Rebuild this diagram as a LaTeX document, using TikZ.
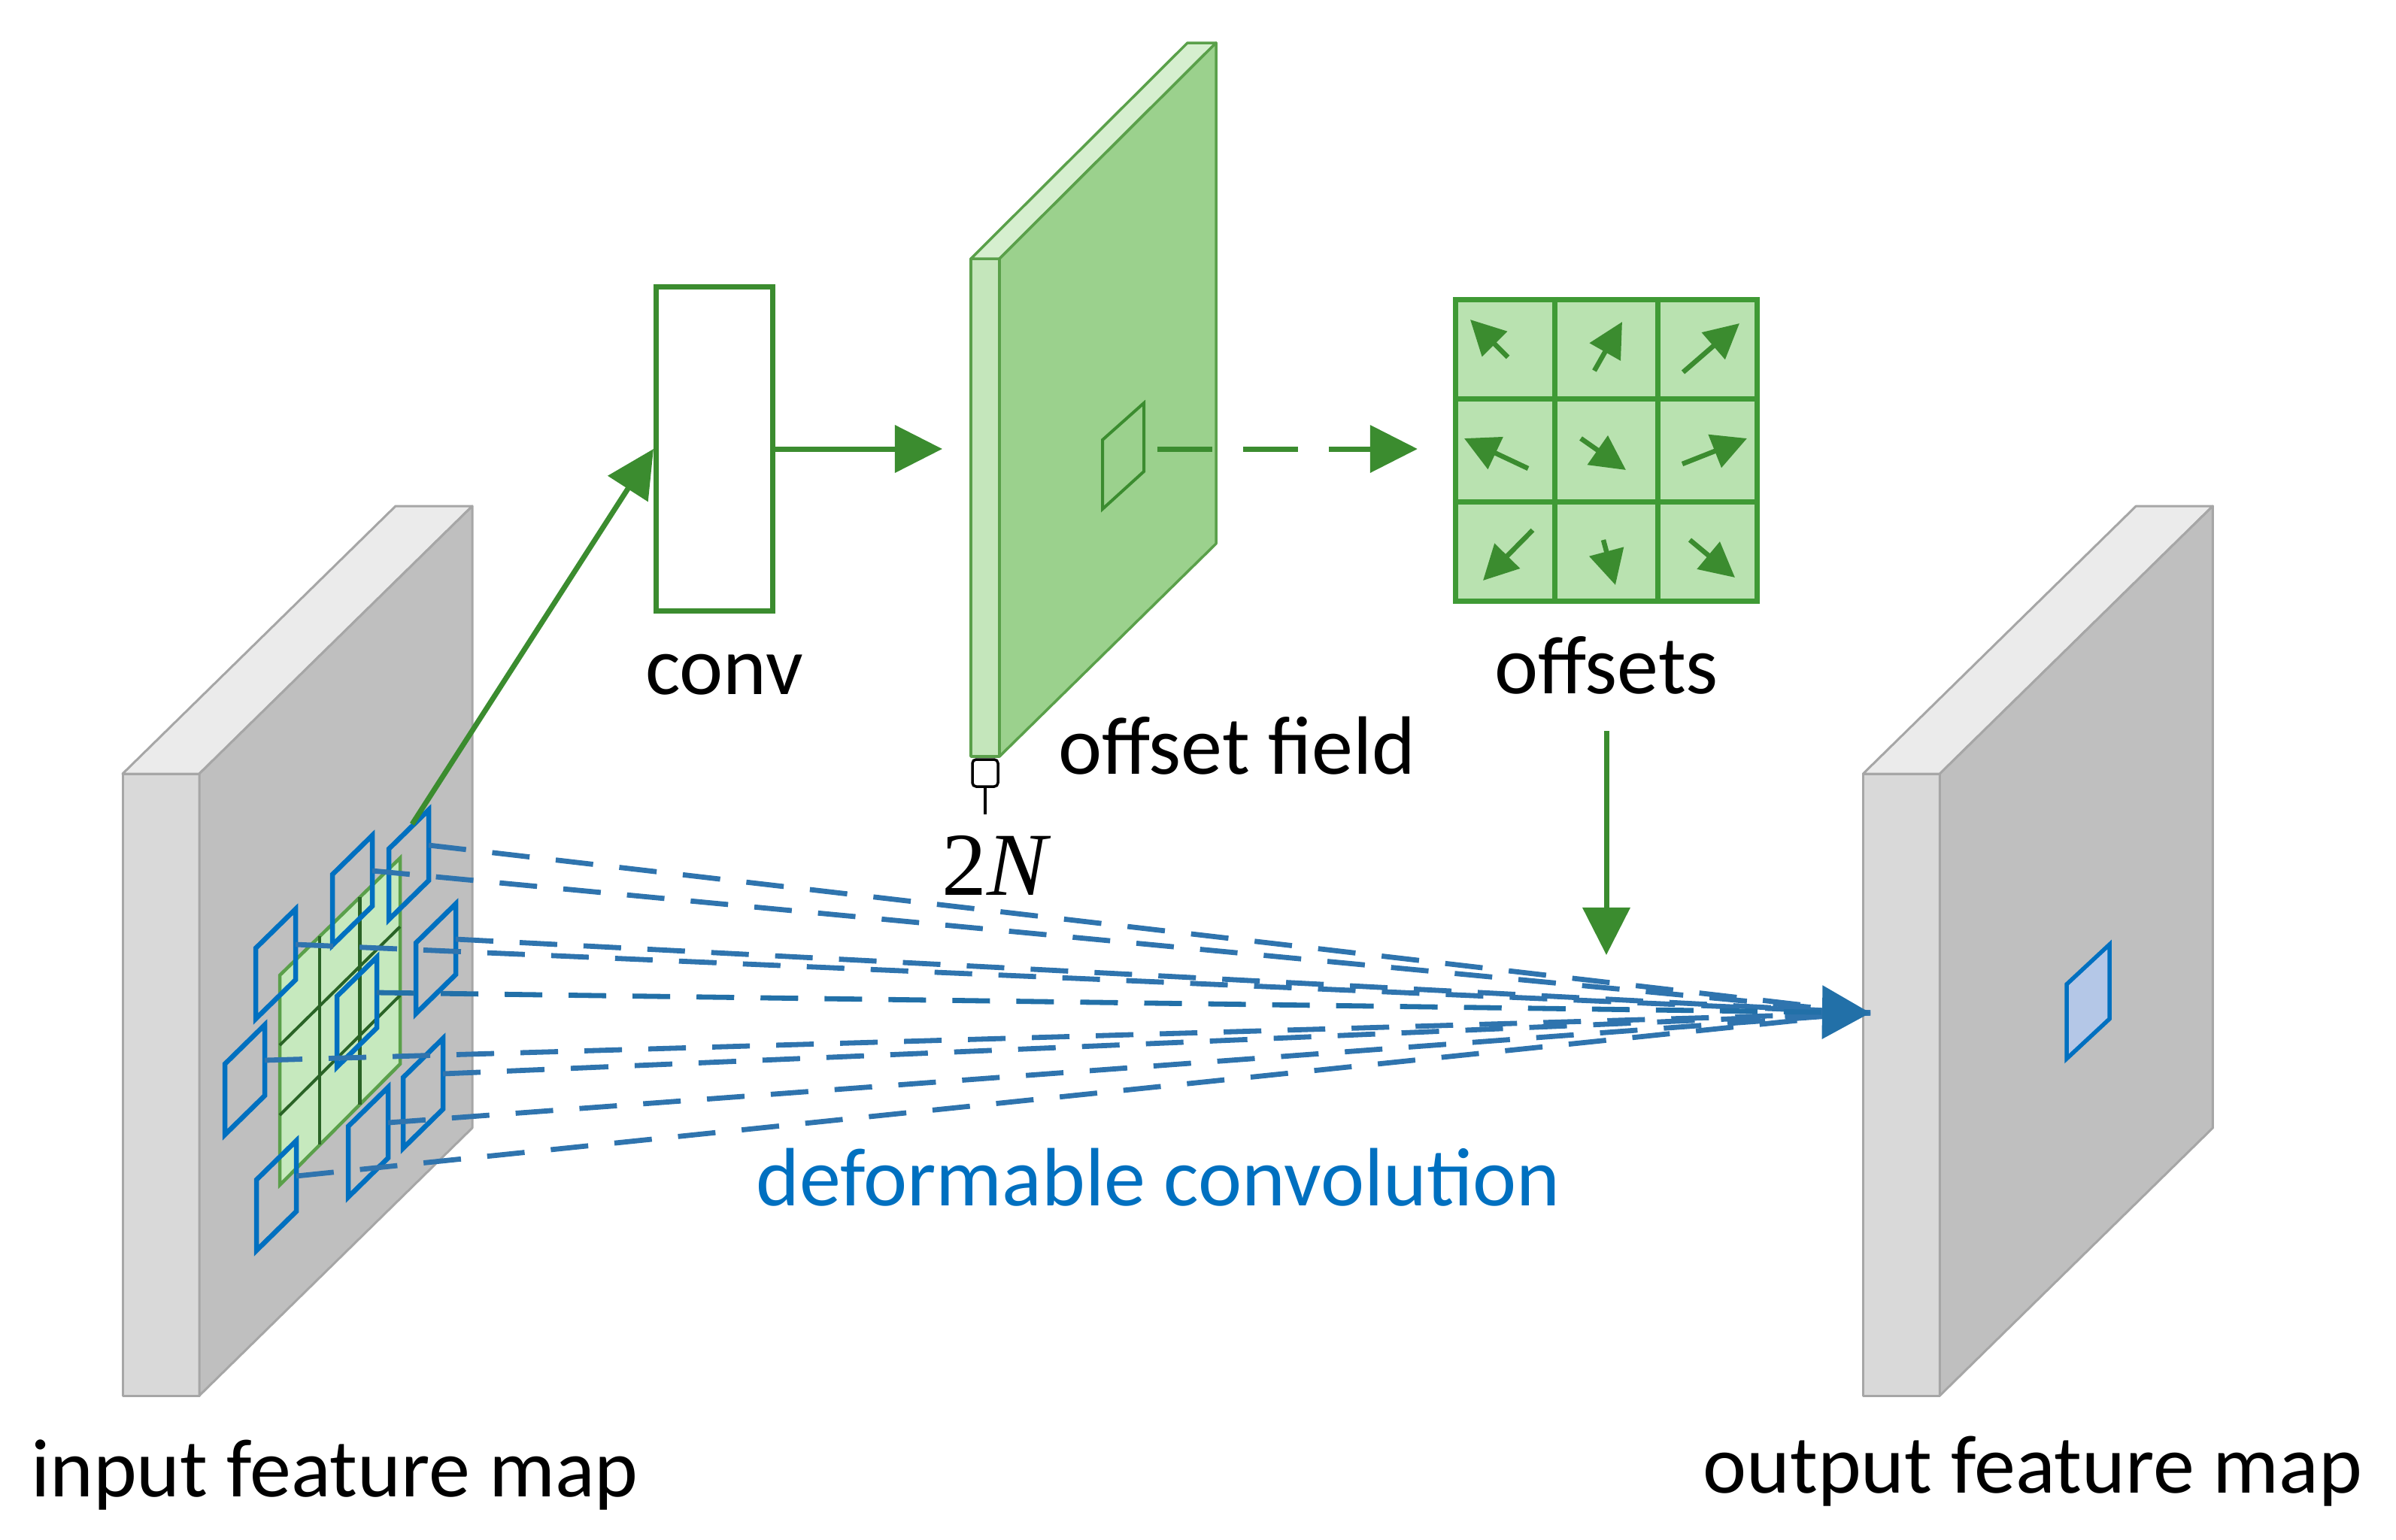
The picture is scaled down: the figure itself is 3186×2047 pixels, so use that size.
\documentclass[tikz,border=0pt]{standalone}
\usepackage{fontspec}
\setmainfont{Carlito}
\newfontfamily\tnr{Liberation Serif}
\usetikzlibrary{arrows.meta,calc}
\definecolor{gfront}{HTML}{BFBFBF}
\definecolor{gside}{HTML}{D9D9D9}
\definecolor{gtop}{HTML}{EBEBEB}
\definecolor{gedge}{HTML}{A6A6A6}
\definecolor{dgreen}{HTML}{3B8C2F}
\definecolor{sfront}{HTML}{9BD18D}
\definecolor{sside}{HTML}{C4E6BB}
\definecolor{stopc}{HTML}{D6EFCF}
\definecolor{sedge}{HTML}{5AA04A}
\definecolor{gridfill}{HTML}{B9E2B0}
\definecolor{gridline}{HTML}{3F9A35}
\definecolor{bsq}{HTML}{0070C0}
\definecolor{bdash}{HTML}{2F74AE}
\definecolor{barrow}{HTML}{2270A8}
\definecolor{bfill}{HTML}{B4C7E7}
\definecolor{patchfill}{HTML}{C6E9BE}
\definecolor{patchline}{HTML}{2A6326}
\newcommand\bluesq[3]{%
  \draw[bsqstyle] (#1,#2) -- ++(53,-52) -- ++(0,94) -- ++(-53,52) -- cycle;
  \coordinate (#3) at ($(#1,#2)+(53,-5)$);}
\begin{document}
\begin{tikzpicture}[x=0.01cm,y=-0.01cm,
  lbl/.style={font=\fontsize{31.3}{37}\selectfont, inner sep=0, anchor=base},
  garrow/.style={draw=dgreen, line width=0.07cm, -{Triangle[length=0.63cm,width=0.62cm]}},
  smallarrow/.style={draw=dgreen, line width=0.065cm, -{Triangle[length=0.46cm,width=0.46cm]}},
  bsqstyle/.style={draw=bsq, line width=0.065cm, line join=miter},
  bdashline/.style={draw=bdash, line width=0.068cm, dash pattern=on 0.5cm off 0.35cm},
  paneledge/.style={draw=gedge, line width=0.03cm, line join=round},
  slabedge/.style={draw=sedge, line width=0.035cm, line join=round}]
\useasboundingbox (0,0) rectangle (3186,2047);

% ---------- input feature map panel ----------
\filldraw[paneledge, fill=gside] (163,1029) rectangle (265,1856);
\filldraw[paneledge, fill=gtop] (163,1029) -- (265,1029) -- (628,673) -- (526,673) -- cycle;
\filldraw[paneledge, fill=gfront] (265,1029) -- (628,673) -- (628,1500) -- (265,1856) -- cycle;

% ---------- output feature map panel ----------
\begin{scope}[xshift=23.13cm]
\filldraw[paneledge, fill=gside] (163,1029) rectangle (265,1856);
\filldraw[paneledge, fill=gtop] (163,1029) -- (265,1029) -- (628,673) -- (526,673) -- cycle;
\filldraw[paneledge, fill=gfront] (265,1029) -- (628,673) -- (628,1500) -- (265,1856) -- cycle;
\end{scope}
\filldraw[draw=bsq, fill=bfill, line width=0.055cm] (2748,1309) -- (2805,1256) -- (2805,1355) -- (2748,1408) -- cycle;

% ---------- regular grid on input ----------
\coordinate (pa) at (372,1297);
\coordinate (pb) at (532,1141);
\coordinate (pc) at (532,1415);
\coordinate (pd) at (372,1576);
\filldraw[fill=patchfill, draw=sedge, line width=0.045cm] (pa) -- (pb) -- (pc) -- (pd) -- cycle;
\draw[patchline, line width=0.04cm] ($(pa)!1/3!(pb)$) -- ($(pd)!1/3!(pc)$);
\draw[patchline, line width=0.05cm] ($(pa)!2/3!(pb)$) -- ($(pd)!2/3!(pc)$);
\draw[patchline, line width=0.04cm] ($(pa)!1/3!(pd)$) -- ($(pb)!1/3!(pc)$);
\draw[patchline, line width=0.04cm] ($(pa)!2/3!(pd)$) -- ($(pb)!2/3!(pc)$);

% ---------- sampling locations ----------
\bluesq{517}{1129}{s1}
\bluesq{442}{1163}{s2}
\bluesq{340}{1261}{s3}
\bluesq{448}{1325}{s4}
\bluesq{553}{1254}{s5}
\bluesq{299}{1415}{s6}
\bluesq{536}{1433}{s7}
\bluesq{463}{1498}{s8}
\bluesq{341}{1569}{s9}

% ---------- deformable convolution lines ----------
\coordinate (tip) at (2487,1347);
\foreach \s in {s1,s2,s3,s5,s6,s7,s8,s9}{\draw[bdashline] (\s) -- (tip);}
\draw[bdashline, -{Triangle[length=0.64cm,width=0.70cm]}, barrow] (s4) -- (tip);

% ---------- conv ----------
\node (conv) [draw=dgreen, line width=0.07cm, minimum width=1.55cm, minimum height=4.31cm, inner sep=0] at (950,597) {};
\node (convl) [lbl] at (963,923) {conv};
\coordinate (gstart) at (548,1096);
\draw[garrow] (gstart) -- (conv.west);

% ---------- offset field slab ----------
\filldraw[slabedge, fill=sside] (1291,344) rectangle (1329,1006);
\filldraw[slabedge, fill=stopc] (1291,344) -- (1329,344) -- (1617,57) -- (1579,57) -- cycle;
\filldraw[slabedge, fill=sfront] (1329,344) -- (1617,57) -- (1617,723) -- (1329,1006) -- cycle;
\draw[dgreen, line width=0.04cm] (1466,585) -- (1521,536) -- (1521,627) -- (1466,677) -- cycle;
\coordinate (slabin) at (1253,597);
\draw[garrow] (conv.east) -- (slabin);
\draw[black, line width=0.035cm, fill=white, rounded corners=0.05cm] (1293,1010) rectangle (1327,1046);
\draw[black, line width=0.045cm] (1310,1046) -- (1310,1083);
\node (twoN) [font=\tnr\fontsize{34}{40}\selectfont, inner sep=0, anchor=base] at (1325,1190) {2\textit{N}};
\node (fieldl) [lbl] at (1645,1029) {offset field};

% ---------- offsets ----------
\node (grid) [draw=gridline, fill=gridfill, line width=0.07cm, minimum size=4.01cm, inner sep=0] at (2136,599) {};
\draw[gridline, line width=0.07cm] ($(grid.north west)!1/3!(grid.north east)$) -- ($(grid.south west)!1/3!(grid.south east)$);
\draw[gridline, line width=0.07cm] ($(grid.north west)!2/3!(grid.north east)$) -- ($(grid.south west)!2/3!(grid.south east)$);
\draw[gridline, line width=0.07cm] ($(grid.north west)!1/3!(grid.south west)$) -- ($(grid.north east)!1/3!(grid.south east)$);
\draw[gridline, line width=0.07cm] ($(grid.north west)!2/3!(grid.south west)$) -- ($(grid.north east)!2/3!(grid.south east)$);
\draw[smallarrow] (2005,475) -- (1955,425);
\draw[smallarrow] (2120,493) -- (2157,428);
\draw[smallarrow] (2238,495) -- (2313,430);
\draw[smallarrow] (2032,623) -- (1947,583);
\draw[smallarrow] (2102,583) -- (2162,625);
\draw[smallarrow] (2237,617) -- (2323,583);
\draw[smallarrow] (2038,705) -- (1972,772);
\draw[smallarrow] (2132,718) -- (2148,778);
\draw[smallarrow] (2247,718) -- (2307,768);
\coordinate (fsq) at (1539,597);
\draw[garrow, dash pattern=on 0.73cm off 0.41cm] (fsq) -- ($(grid.west)+(-47,-2)$);
\node (offl) [lbl] at (2136,922) {offsets};
\coordinate (dtip) at (2136,1270);
\draw[garrow] ($(offl.base)+(0,50)$) -- (dtip);

% ---------- labels ----------
\node (defl) [lbl, text=bsq] at (1540,1603) {deformable convolution};
\node (inl) [lbl] at (445,1990) {input feature map};
\node (outl) [lbl] at (2703,1985) {output feature map};
\end{tikzpicture}
\end{document}
